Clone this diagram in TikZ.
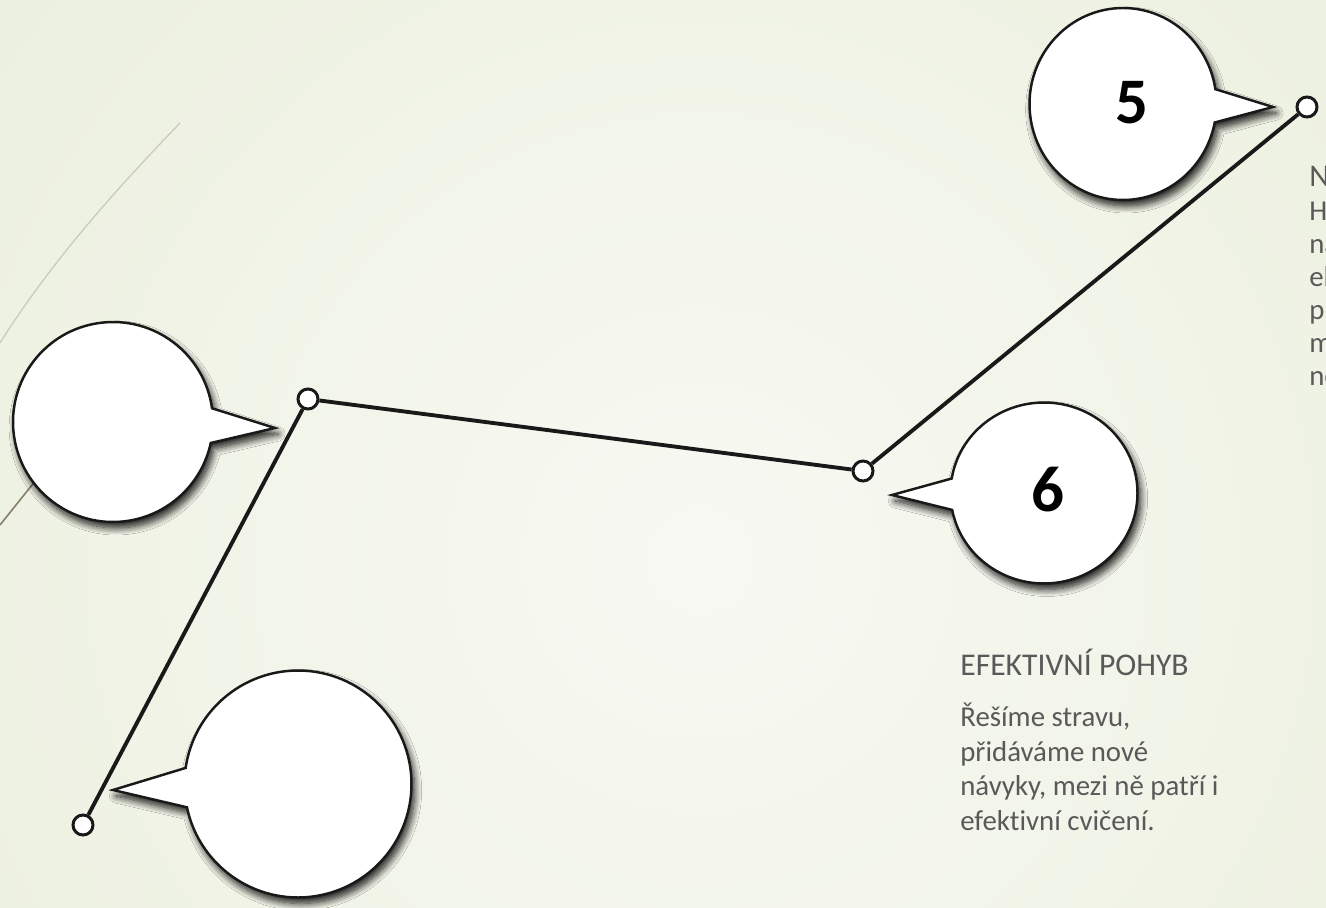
\documentclass[tikz,border=0pt]{standalone}
\usepackage{fontspec}
\setmainfont{Carlito}[Ligatures=NoCommon]
\usepackage{xcolor}
\usepackage{tikz}
\usetikzlibrary{shapes.callouts,shadows.blur}
\definecolor{leafpale}{HTML}{F8F9F3}
\definecolor{leafedge}{HTML}{DFE7CA}
\definecolor{arcfaint}{HTML}{C8CBB4}
\definecolor{arcdark}{HTML}{857E68}
\definecolor{inkgrey}{HTML}{595959}

\begin{document}
\begin{tikzpicture}[x=0.02cm,y=-0.02cm,
    bubble/.style={ellipse callout,draw=black!90,line width=1.4pt,fill=white,
      inner sep=0pt,callout pointer arc=20,
      blur shadow={shadow xshift=1.8pt,shadow yshift=-3.4pt,
        shadow blur radius=4pt,shadow blur steps=10,shadow opacity=90}},
    joint/.style={circle,draw=black!90,line width=1.7pt,fill=white,
      minimum size=0.4cm,inner sep=0pt},
    digit/.style={inner sep=0pt,font=\fontsize{37}{40}\selectfont\bfseries},
    cardhead/.style={anchor=base west,inner sep=0pt,text=inkgrey,
      font=\fontsize{18}{21}\selectfont},
    cardtext/.style={anchor=base west,inner sep=0pt,align=left,text=inkgrey,
      font=\fontsize{16.4}{19.6}\selectfont}]
    \useasboundingbox (0,0) rectangle (1326,908);
    \begin{scope}
      \clip (0,0) rectangle (1326,908);
      % backdrop
      \shade[inner color=leafpale,outer color=leafedge]
        (-1100,-1240) rectangle (2500,2360);
      \draw[arcfaint,line width=0.7pt] (180,123) .. controls (130,175) and (55,255) .. (0,343);
      \draw[arcdark,line width=0.9pt] (0,525) -- (100,400);

      % speech bubbles
      \node[bubble,minimum width=3.74cm,minimum height=3.84cm,
        callout absolute pointer={(1273,107)}] (b4) at (1123,104) {};
      \node[bubble,minimum width=3.74cm,minimum height=3.62cm,
        callout absolute pointer={(892,495)}] (b3) at (1044,493) {};
      \node[bubble,minimum size=4cm,
        callout absolute pointer={(275,428)}] (b2) at (113,422) {};
      \node[bubble,minimum size=4.54cm,
        callout absolute pointer={(113,790)}] (b1) at (298,784) {};
      \node[digit] (n4) at (1132,103) {5};
      \node[digit] (n3) at (1048,490) {6};

      % path through the points
      \node[joint] (p1) at (83,825) {};
      \node[joint] (p2) at (308,399) {};
      \node[joint] (p3) at (863,471) {};
      \node[joint] (p4) at (1307,107) {};
      \draw[black!90,line width=2.2pt] (p1) -- (p2) -- (p3) -- (p4);

      % captions (multi-line nodes sit on their last line)
      \node[cardhead] (h3) at (960,676) {EFEKTIVNÍ POHYB};
      \node[cardtext] (c3) at (960,830)
        {Řešíme stravu,\\přidáváme nové\\návyky, mezi ně patří i\\efektivní cvičení.};
      \node[cardhead] (h4) at (1309,187) {N};
      \node[cardtext,font=\fontsize{16.4}{18.8}\selectfont] (c4) at (1309,386)
        {Hu\\na\\el\\př\\m\\no};
    \end{scope}
\end{tikzpicture}
\end{document}
